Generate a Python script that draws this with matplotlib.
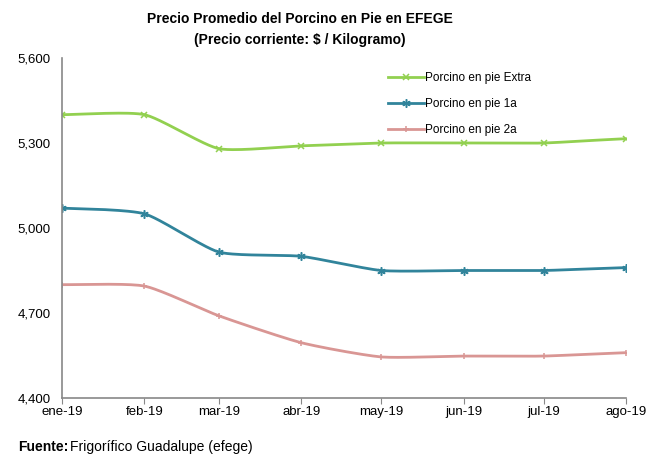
import numpy as np
import pandas as pd
import matplotlib
matplotlib.use('Agg')
import matplotlib.pyplot as plt
import matplotlib.dates as mdates

plt.rcParams['font.family'] = ['Liberation Sans', 'DejaVu Sans']

# Data (precio corriente $/kg)
months = ['2019-01-01', '2019-02-01', '2019-03-01', '2019-04-01',
          '2019-05-01', '2019-06-01', '2019-07-01', '2019-08-01']
month_labels = ['ene-19', 'feb-19', 'mar-19', 'abr-19', 'may-19', 'jun-19', 'jul-19', 'ago-19']
extra = [5400, 5400, 5280, 5290, 5300, 5300, 5300, 5315]
primera = [5070, 5050, 4915, 4900, 4850, 4850, 4850, 4860]
segunda = [4800, 4795, 4690, 4595, 4545, 4548, 4548, 4560]

dates = pd.to_datetime(months)
xnum = mdates.date2num(dates)


def smooth(x, y, n=30):
    # catmull-rom style curve through the points, like excel "smoothed line"
    x = np.asarray(x, float)
    y = np.asarray(y, float)
    px = np.concatenate([[2 * x[0] - x[1]], x, [2 * x[-1] - x[-2]]])
    py = np.concatenate([[y[0]], y, [y[-1]]])
    xs, ys = [], []
    for i in range(1, len(px) - 2):
        t = np.linspace(0, 1, n)
        for arr, out in ((px, xs), (py, ys)):
            p0, p1, p2, p3 = arr[i - 1], arr[i], arr[i + 1], arr[i + 2]
            m1 = (p2 - p0) / 2 * 0.6
            m2 = (p3 - p1) / 2 * 0.6
            h00 = 2 * t**3 - 3 * t**2 + 1
            h10 = t**3 - 2 * t**2 + t
            h01 = -2 * t**3 + 3 * t**2
            h11 = t**3 - t**2
            out.extend(h00 * p1 + h10 * m1 + h01 * p2 + h11 * m2)
    return np.array(xs), np.array(ys)


fig = plt.figure(figsize=(6.49, 4.55), dpi=100)
ax = fig.add_axes([62 / 649, 1 - 398 / 455, (626 - 62) / 649, (398 - 58) / 455])

series = [
    (extra, '#92D050', 'x', 5, 'Porcino en pie Extra'),
    (primera, '#31849B', (6, 2, 0), 6, 'Porcino en pie 1a'),
    (segunda, '#D99694', '+', 4, 'Porcino en pie 2a'),
]
for vals, col, mk, ms, lab in series:
    sx, sy = smooth(xnum, vals)
    ax.plot(sx, sy, color=col, lw=2.0, solid_capstyle='round')
    ax.plot(xnum, vals, linestyle='none', marker=mk, color=col, ms=ms, mew=1.1)
    ax.plot([], [], color=col, lw=2.0, marker=mk, ms=ms, mew=1.1, label=lab)

ax.set_xlim(xnum[0], xnum[-1])
ax.set_ylim(4400, 5600)
ax.set_yticks([4400, 4700, 5000, 5300, 5600])
ax.set_yticklabels([f'{v:,}' for v in [4400, 4700, 5000, 5300, 5600]], fontsize=9.5)
ax.set_xticks(xnum)
ax.set_xticklabels(month_labels, fontsize=9.5)
ax.tick_params(axis='y', length=0, pad=8)
ax.tick_params(axis='x', length=4, color='#888888', direction='out', pad=2)
for s in ['top', 'right']:
    ax.spines[s].set_visible(False)
for s in ['left', 'bottom']:
    ax.spines[s].set_color('#888888')
    ax.spines[s].set_linewidth(1.2)

leg = ax.legend(loc='upper left', bbox_to_anchor=(0.56, 0.99), frameon=False,
                fontsize=8.5, handlelength=3, labelspacing=1.2, handletextpad=0.1)

fig.text(0.462, 0.958, 'Precio Promedio del Porcino en Pie en EFEGE',
         ha='center', va='center', fontsize=10, fontweight='bold')
fig.text(0.462, 0.913, '(Precio corriente: $ / Kilogramo)',
         ha='center', va='center', fontsize=10, fontweight='bold')

t1 = fig.text(0.028, 0.002, 'Fuente:', fontsize=10, fontweight='bold', va='bottom')
fig.canvas.draw()
bb = t1.get_window_extent().transformed(fig.transFigure.inverted())
fig.text(bb.x1 + 0.003, 0.002, 'Frigorífico Guadalupe (efege)', fontsize=10, va='bottom')

fig.savefig('out.png', dpi=100)
